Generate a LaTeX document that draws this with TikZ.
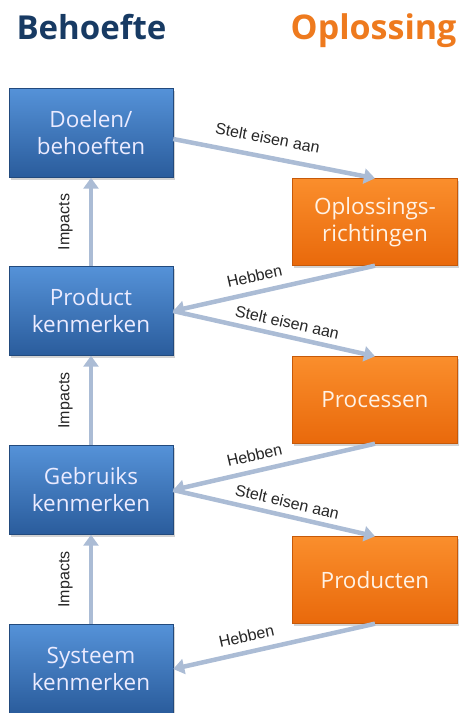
\documentclass[tikz,border=0pt]{standalone}
\usepackage{fontspec}
\setmainfont{Open Sans}
\newfontfamily\labelfont{Liberation Sans}
\usepackage{xcolor}
\usetikzlibrary{arrows.meta}
\usetikzlibrary{shadows}
\definecolor{navytitle}{HTML}{173A63}
\definecolor{orangetitle}{HTML}{EE7A1E}
\definecolor{bluetop}{HTML}{5592D8}
\definecolor{bluebot}{HTML}{2A5C9C}
\definecolor{orangetop}{HTML}{FA8E2C}
\definecolor{orangebot}{HTML}{E9690B}
\definecolor{arrowgrey}{HTML}{ABBCD5}
\tikzstyle{needbox} = [draw=bluebot!80!black, thin, top color=bluetop, bottom color=bluebot,
minimum width=164pt, minimum height=89pt, align=center, text=white!92!blue,
font=\fontsize{22.5}{27}\selectfont,
drop shadow={shadow xshift=1.5pt, shadow yshift=-2pt, opacity=0.35}]
\tikzstyle{solbox} = [draw=orangebot!85!black, thin, top color=orangetop, bottom color=orangebot,
minimum width=165pt, minimum height=87pt, align=center, text=white!90!orange,
font=\fontsize{22.5}{27}\selectfont,
drop shadow={shadow xshift=1.5pt, shadow yshift=-2pt, opacity=0.35}]
\tikzstyle{flow} = [draw=arrowgrey, line width=4.5pt, -{Triangle[length=11pt,width=15pt]}]
\tikzstyle{flowlabel} = [font=\labelfont\fontsize{16}{17}\selectfont, text=black!85, sloped, inner sep=1pt]

\begin{document}
\begin{tikzpicture}[x=1pt,y=-1pt]
        \useasboundingbox (0,0) rectangle (462,713);
        % titles
        \node[font=\bfseries\fontsize{33}{36}\selectfont, text=navytitle, anchor=base west] (behoefte) at (13,39) {Behoefte};
        \node[font=\bfseries\fontsize{34}{36}\selectfont, text=orangetitle, anchor=base east] (oplossing) at (460,39) {Oplossing};
        % behoefte column
        \node[needbox] (doelen) at (91,133) {Doelen/\\behoeften};
        \node[needbox] (product) at (91,311) {Product\\kenmerken};
        \node[needbox] (gebruik) at (91,490) {Gebruiks\\kenmerken};
        \node[needbox] (systeem) at (91,669) {Systeem\\kenmerken};
        % oplossing column
        \node[solbox] (richting) at (375,222) {Oplossings-\\richtingen};
        \node[solbox] (processen) at (375,400) {Processen};
        \node[solbox] (producten) at (375,580) {Producten};
        % impacts
        \draw[flow] (product.north) -- node[flowlabel, above=15pt] {Impacts} (doelen.south);
        \draw[flow] (gebruik.north) -- node[flowlabel, above=15pt] {Impacts} (product.south);
        \draw[flow] (systeem.north) -- node[flowlabel, above=15pt] {Impacts} (gebruik.south);
        % stelt eisen aan
        \draw[flow] ([yshift=-6pt]doelen.east) -- node[flowlabel, above=10pt, pos=0.45] {Stelt eisen aan} (richting.north);
        \draw[flow] (product.east) -- node[flowlabel, above=5pt, pos=0.55] {Stelt eisen aan} (processen.north);
        \draw[flow] (gebruik.east) -- node[flowlabel, above=5pt, pos=0.55] {Stelt eisen aan} (producten.north);
        % hebben
        \draw[flow] (richting.south) -- node[flowlabel, above=7pt, pos=0.58] {Hebben} (product.east);
        \draw[flow] (processen.south) -- node[flowlabel, above=7pt, pos=0.58] {Hebben} (gebruik.east);
        \draw[flow] (producten.south) -- node[flowlabel, above=7pt, pos=0.62] {Hebben} (systeem.east);
    \end{tikzpicture}
\end{document}
